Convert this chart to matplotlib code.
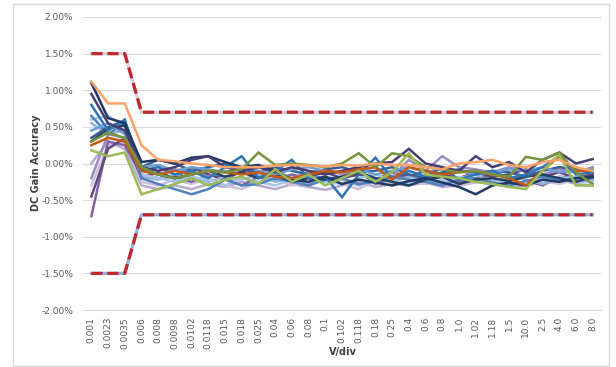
import numpy as np
import matplotlib
matplotlib.use("Agg")
import matplotlib.pyplot as plt
from matplotlib.patches import Rectangle
from matplotlib.ticker import FuncFormatter

categories = ['0.001', '0.0023', '0.0035', '0.006', '0.008', '0.0098', '0.0102', '0.0118',
              '0.015', '0.018', '0.025', '0.04', '0.06', '0.08', '0.1', '0.102', '0.118',
              '0.18', '0.25', '0.4', '0.6', '0.8', '1.0', '1.02', '1.18', '1.5', '10.0',
              '2.5', '4.0', '6.0', '8.0']

upper_limit = [1.5, 1.5, 1.5] + [0.7] * 28
lower_limit = [-1.5, -1.5, -1.5] + [-0.7] * 28

# measured gain error (%) per channel
s_navy = [1.10, 0.62, 0.55, 0.02, 0.05, 0.00, 0.08, 0.10, 0.02, -0.05, -0.02, -0.10, -0.22, -0.25, -0.18, -0.28,
          -0.22, -0.26, -0.30, -0.24, -0.20, -0.26, -0.32, -0.42, -0.30, -0.26, -0.30, -0.22, -0.25, -0.20, -0.18]
s_dkpurple = [0.95, 0.55, 0.45, -0.05, -0.10, -0.05, 0.05, 0.10, -0.05, -0.10, -0.05, -0.12, -0.05, -0.10, -0.15, -0.10,
              -0.05, 0.00, 0.02, 0.20, 0.00, -0.05, -0.10, 0.10, -0.05, 0.02, -0.12, 0.05, 0.15, 0.00, 0.06]
s_blue = [0.80, 0.45, 0.60, -0.10, -0.05, -0.15, -0.10, -0.20, -0.05, 0.10, -0.20, -0.10, 0.05, -0.20, -0.18, -0.46,
          -0.15, 0.08, -0.20, -0.10, -0.18, -0.05, -0.22, -0.15, -0.10, -0.20, -0.15, -0.05, 0.10, -0.15, -0.12]
s_blue2 = [0.65, 0.40, 0.55, -0.20, -0.28, -0.35, -0.42, -0.35, -0.22, -0.30, -0.28, -0.20, -0.25, -0.30, -0.22, -0.20,
           -0.28, -0.25, -0.18, -0.22, -0.25, -0.30, -0.22, -0.20, -0.26, -0.30, -0.24, -0.18, -0.22, -0.25, -0.20]
s_ltblue = [0.60, 0.65, 0.50, -0.15, -0.20, -0.25, -0.18, -0.22, -0.30, -0.20, -0.25, -0.30, -0.22, -0.18, -0.25, -0.28,
            -0.20, -0.15, -0.22, -0.28, -0.20, -0.25, -0.18, -0.24, -0.30, -0.20, -0.28, -0.22, -0.18, -0.24, -0.26]
s_steel = [0.45, 0.55, 0.40, -0.05, -0.02, -0.10, -0.05, -0.08, -0.12, -0.05, -0.10, -0.15, -0.08, -0.05, -0.10, -0.12,
           -0.08, -0.15, -0.10, -0.05, -0.12, -0.08, -0.10, -0.15, -0.12, -0.08, -0.10, -0.05, -0.12, -0.10, -0.08]
s_slate = [0.35, 0.50, 0.58, -0.05, 0.05, 0.00, -0.10, -0.05, 0.00, -0.08, -0.12, -0.05, -0.10, -0.15, -0.08, -0.05,
           -0.12, -0.10, -0.05, -0.15, -0.20, -0.12, -0.08, -0.15, -0.10, -0.12, -0.18, -0.10, -0.05, -0.08, -0.10]
s_lavender = [0.00, 0.30, 0.20, -0.30, -0.35, -0.30, -0.35, -0.28, -0.32, -0.25, -0.30, -0.35, -0.28, -0.32, -0.36, -0.30,
              -0.25, -0.32, -0.28, -0.30, -0.26, -0.32, -0.30, -0.25, -0.28, -0.32, -0.30, -0.26, -0.22, -0.28, -0.30]
s_purple = [-0.72, 0.30, 0.25, -0.15, -0.20, -0.18, -0.25, -0.15, -0.20, -0.30, -0.18, -0.22, -0.15, -0.20, -0.25, -0.18,
            -0.10, -0.28, -0.20, -0.15, -0.22, -0.18, -0.25, -0.20, -0.15, -0.18, -0.22, -0.30, -0.18, -0.20, -0.15]
s_ltpurple = [-0.30, 0.25, 0.30, -0.25, -0.30, -0.22, -0.28, -0.20, -0.30, -0.35, -0.25, -0.20, -0.30, -0.25, -0.20, -0.28,
              -0.35, -0.22, -0.30, -0.25, -0.28, -0.22, -0.30, -0.26, -0.20, -0.25, -0.30, -0.24, -0.28, -0.22, -0.25]
s_mauve = [-0.20, 0.40, 0.35, -0.10, -0.15, -0.08, -0.12, -0.18, -0.10, -0.15, -0.05, -0.10, -0.20, -0.12, -0.08, -0.15,
           -0.10, -0.05, -0.18, 0.05, -0.10, 0.10, -0.05, -0.08, -0.12, -0.05, -0.10, -0.15, -0.08, -0.12, -0.05]
s_violet = [-0.45, 0.20, 0.35, -0.20, -0.12, -0.20, -0.05, -0.15, -0.22, -0.10, -0.18, -0.12, -0.25, -0.18, -0.12, -0.20,
            -0.15, -0.22, -0.12, -0.18, -0.10, -0.15, -0.20, -0.12, -0.18, -0.15, -0.08, -0.18, -0.12, -0.20, -0.15]
s_grayblue = [0.55, 0.40, 0.45, -0.18, -0.22, -0.15, -0.20, -0.25, -0.18, -0.22, -0.15, -0.25, -0.20, -0.28, -0.18, -0.22,
              -0.30, -0.20, -0.25, -0.18, -0.22, -0.28, -0.20, -0.15, -0.25, -0.18, -0.22, -0.28, -0.20, -0.18, -0.22]
s_deepblue = [0.30, 0.48, 0.52, -0.08, -0.15, -0.20, -0.15, -0.10, -0.18, -0.12, -0.20, -0.15, -0.25, -0.20, -0.22, -0.18,
              -0.12, -0.20, -0.25, -0.30, -0.22, -0.18, -0.28, -0.22, -0.20, -0.24, -0.18, -0.15, -0.20, -0.25, -0.18]
s_orange = [0.25, 0.35, 0.30, -0.10, -0.15, -0.10, -0.15, -0.10, -0.12, -0.15, -0.12, -0.18, -0.20, -0.15, -0.10, -0.12,
            -0.08, -0.05, -0.22, -0.05, -0.10, -0.15, -0.12, -0.10, -0.15, -0.20, -0.30, -0.10, 0.10, -0.10, -0.10]
s_green = [0.30, 0.42, 0.35, -0.05, -0.15, -0.20, -0.15, -0.10, -0.12, -0.08, 0.15, -0.02, 0.00, -0.02, -0.05, 0.00,
           0.14, -0.05, 0.14, 0.10, -0.05, -0.08, -0.12, -0.10, -0.15, -0.18, 0.09, 0.05, 0.15, -0.12, -0.28]
s_ltgreen = [0.18, 0.10, 0.15, -0.42, -0.35, -0.28, -0.20, -0.30, -0.22, -0.18, -0.28, -0.08, -0.25, -0.15, -0.30, -0.20,
             -0.10, -0.25, -0.12, 0.14, -0.15, -0.18, -0.20, -0.25, -0.28, -0.32, -0.35, -0.10, 0.12, -0.30, -0.30]
s_ltorange = [1.12, 0.82, 0.82, 0.25, 0.05, 0.03, 0.00, -0.02, -0.05, -0.05, -0.05, -0.03, -0.02, -0.03, -0.04, -0.02,
              -0.03, 0.00, -0.02, -0.02, -0.05, -0.08, 0.00, 0.02, 0.05, -0.02, -0.05, 0.02, 0.05, -0.05, -0.10]

series = [s_lavender, s_ltpurple, s_purple, s_violet, s_mauve, s_grayblue, s_ltblue, s_blue2,
          s_deepblue, s_slate, s_steel, s_blue, s_navy, s_dkpurple,
          s_orange, s_green, s_ltgreen, s_ltorange]
colors = ['#b7a9d0', '#ccc0da', '#8064a2', '#604a7b', '#9b8cc4', '#95b3d7', '#a6c8e8', '#4f81bd',
          '#254061', '#376092', '#6d9fd4', '#2e75b6', '#1f3864', '#4b3b73',
          '#c55a11', '#77933c', '#9bbb59', '#f9a36a']

fig = plt.figure(figsize=(6.16, 3.67), dpi=100)
ax = fig.add_axes([83 / 616, 1 - 310 / 367, (601 - 83) / 616, (310 - 17) / 367])

x = np.arange(len(categories))
for s, c in zip(series, colors):
    ax.plot(x, s, color=c, lw=1.8, solid_joinstyle='miter')

for lim, under in [(upper_limit, '#d6d0dc'), (lower_limit, '#8eb4e3')]:
    ax.plot(x, lim, color=under, lw=2.3)
    ln, = ax.plot(x, lim, color='#c0282d', lw=2.3)
    ln.set_dashes([3.5, 1.5])

ax.set_xlim(-0.5, len(categories) - 0.5)
ax.set_ylim(-2.0, 2.0)
ax.set_yticks(np.arange(-2.0, 2.01, 0.5))
ax.yaxis.set_major_formatter(FuncFormatter(lambda v, p: f'{v:.2f}%'))
ax.set_xticks(x)
ax.set_xticklabels(categories, rotation=90)
ax.tick_params(length=0, labelsize=6.5, colors='#595959')
ax.tick_params(axis='y', pad=7)
ax.tick_params(axis='x', pad=5)
ax.grid(axis='y', color='#d9d9d9', lw=0.8)
ax.set_axisbelow(True)
for side in ['top', 'right', 'left']:
    ax.spines[side].set_visible(False)
ax.spines['bottom'].set_color('#d9d9d9')

fig.text(36 / 616, 1 - 163 / 367, 'DC Gain Accuracy', rotation=90, ha='center', va='center',
         fontsize=7, fontweight='bold', color='#404040')
fig.text(343 / 616, 1 - 352 / 367, 'V/div', ha='center', va='center',
         fontsize=7, fontweight='bold', color='#404040')

fig.add_artist(Rectangle((13 / 616, 1 / 367), 596 / 616, 362 / 367, transform=fig.transFigure,
                         fill=False, ec='#d9d9d9', lw=1))

fig.savefig('out.png', dpi=100)
